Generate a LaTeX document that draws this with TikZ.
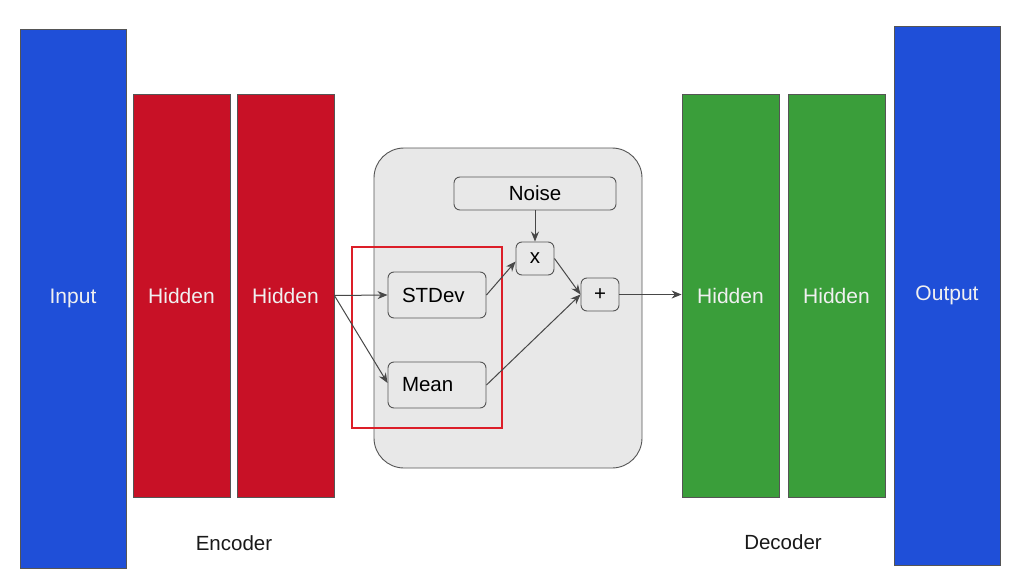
\documentclass[tikz,border=0pt]{standalone}
\usepackage{fontspec}
\setmainfont{Liberation Sans}
\usetikzlibrary{arrows.meta,calc}
\definecolor{bblue}{RGB}{31,79,216}
\definecolor{bred}{RGB}{200,17,38}
\definecolor{bgreen}{RGB}{58,158,58}
\definecolor{panel}{RGB}{232,232,232}
\definecolor{edge}{RGB}{85,85,85}
\definecolor{hl}{RGB}{220,30,40}
\tikzset{
  bar/.style={draw=edge, line width=0.8pt, inner sep=0pt, text=white!94!black,
    font=\fontsize{21}{24}\selectfont},
  sbox/.style={draw=edge, fill=panel, rounded corners=6pt, line width=0.9pt, inner sep=0pt,
    font=\fontsize{20.5}{24}\selectfont},
  conn/.style={draw=black!72, line width=1pt, -{Stealth[length=10pt,width=8pt]}},
  lbl/.style={font=\fontsize{20.5}{24}\selectfont, text=black!90}
}
\begin{document}
\begin{tikzpicture}[x=1pt,y=-1pt]
\useasboundingbox (0,0) rectangle (1027,583);
\fill[white] (0,0) rectangle (1027,583);
% panel
\node[draw=edge, fill=panel, rounded corners=30pt, line width=0.9pt, minimum width=268pt, minimum height=320pt] (panel) at (508,308) {};
% bars
\node[bar, fill=bblue, minimum width=106pt, minimum height=539pt] (input) at (73,298.5) {Input};
\node[bar, fill=bred, minimum width=97pt, minimum height=403pt] (h1) at (181.5,295.5) {Hidden};
\node[bar, fill=bred, minimum width=97pt, minimum height=403pt] (h2) at (285.5,295.5) {Hidden};
\node[bar, fill=bgreen, minimum width=97pt, minimum height=403pt] (h3) at (730.5,295.5) {Hidden};
\node[bar, fill=bgreen, minimum width=97pt, minimum height=403pt] (h4) at (836.5,295.5) {Hidden};
\node[bar, fill=bblue, minimum width=106pt, minimum height=539pt] (output) at (947,295.5) {Output};
% inner boxes
\node[sbox, minimum width=162pt, minimum height=33pt] (noise) at (535,193.5) {Noise};
\node[sbox, minimum width=38pt, minimum height=33pt] (mul) at (535,258.5) {x};
\node[sbox, minimum width=38pt, minimum height=33pt] (plus) at (600,294.5) {+};
\node[sbox, minimum width=98pt, minimum height=46pt, text width=70pt, align=left, xshift=0pt] (std) at (437,295) {STDev};
\node[sbox, minimum width=98pt, minimum height=46pt, text width=70pt, align=left] (mean) at (437,385) {Mean};
% highlight
\node[draw=hl, line width=1.3pt, minimum width=150pt, minimum height=181pt, inner sep=0pt] (sel) at (427,337.5) {};
% connectors
\coordinate (split) at (h2.east);
\draw[conn] (split) -- (std.west);
\draw[conn] (split) -- ($(mean.west)+(0,-2)$);
\draw[conn] (std.east) -- ($(mul.west)+(0,3)$);
\draw[conn] (mul.east) -- (plus.west);
\draw[conn] (mean.east) -- (plus.west);
\draw[conn] (noise.south) -- (mul.north);
\draw[conn] (plus.east) -- (h3.west |- plus.east);
% labels
\node[lbl] (enc) at (234,543) {Encoder};
\node[lbl] (dec) at (783,542) {Decoder};
\end{tikzpicture}
\end{document}
